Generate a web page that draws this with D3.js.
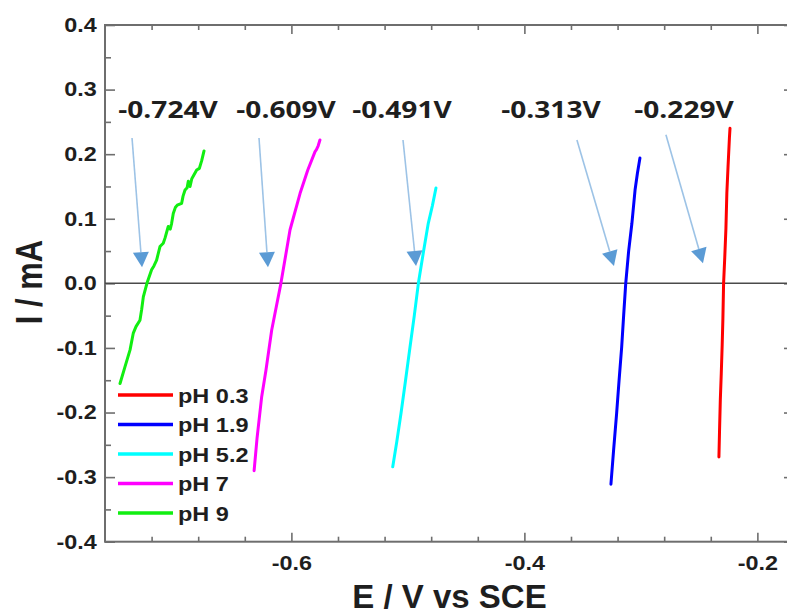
<!DOCTYPE html>
<html>
<head>
<meta charset="utf-8">
<script src="https://cdn.jsdelivr.net/npm/d3@7"></script>
<style>
  html, body { margin: 0; padding: 0; background: #fff; overflow: hidden; }
  svg { display: block; }
</style>
</head>
<body>
<svg id="chart" width="787" height="614"></svg>
<script>
// Open-circuit polarization curves at several pH values (E in V vs SCE, I in mA)
const seriesNames = ["pH 0.3", "pH 1.9", "pH 5.2", "pH 7", "pH 9"];
const seriesColors = ["#ff0000", "#0000ff", "#00ffff", "#ff00ff", "#11ee11"];

const ph03E = [-0.2330, -0.2325, -0.2318, -0.2310, -0.2302, -0.2296, -0.2290, -0.2280, -0.2270, -0.2262, -0.2252, -0.2240, -0.2235];
const ph03I = [-0.269, -0.230, -0.180, -0.140, -0.095, -0.055, 0.000, 0.040, 0.085, 0.140, 0.180, 0.225, 0.240];

const ph19E = [-0.3257, -0.3235, -0.3208, -0.3187, -0.3165, -0.3148, -0.3130, -0.3105, -0.3077, -0.3050, -0.3030, -0.3008];
const ph19I = [-0.311, -0.260, -0.201, -0.150, -0.099, -0.050, 0.000, 0.050, 0.093, 0.1445, 0.170, 0.194];

const ph52E = [-0.5130, -0.5095, -0.5059, -0.5020, -0.4982, -0.4945, -0.4910, -0.4868, -0.4825, -0.4790, -0.4759];
const ph52I = [-0.284, -0.245, -0.201, -0.150, -0.099, -0.050, 0.000, 0.047, 0.093, 0.120, 0.1476];

const ph7E = [-0.6320, -0.6295, -0.6255, -0.6218, -0.6169, -0.6090, -0.6012, -0.5926, -0.5860, -0.5797, -0.5785, -0.5770, -0.5755];
const ph7I = [-0.290, -0.240, -0.1755, -0.134, -0.0723, 0.000, 0.0826, 0.139, 0.175, 0.204, 0.207, 0.213, 0.222];

const ph9E = [-0.7471, -0.7430, -0.7385, -0.7357, -0.7334, -0.7300, -0.7285, -0.7271, -0.7240, -0.7200, -0.7180, -0.7157, -0.7128, -0.7100, -0.7085, -0.7057, -0.7040, -0.7028, -0.7014, -0.6995, -0.6980, -0.6942, -0.6930, -0.6913, -0.6895, -0.6885, -0.6870, -0.6855, -0.6813, -0.6790, -0.6770, -0.6750];
const ph9I = [-0.155, -0.130, -0.103, -0.077, -0.067, -0.057, -0.040, -0.021, 0.000, 0.021, 0.027, 0.036, 0.057, 0.062, 0.070, 0.088, 0.084, 0.093, 0.108, 0.118, 0.121, 0.124, 0.135, 0.1445, 0.148, 0.158, 0.150, 0.162, 0.1755, 0.178, 0.190, 0.205];

const seriesE = [ph03E, ph19E, ph52E, ph7E, ph9E];
const seriesI = [ph03I, ph19I, ph52I, ph7I, ph9I];

// Zero-current potentials, their label anchors and arrow ends (data units)
const crossPotentials = [-0.724, -0.609, -0.491, -0.313, -0.229];
const labelE = [-0.7059, -0.6046, -0.5051, -0.3772, -0.2630];
const labelI = 0.256;
const arrowStartE = [-0.7368, -0.6278, -0.5042, -0.3549, -0.2785];
const arrowStartI = [0.225, 0.225, 0.222, 0.222, 0.230];
const arrowTipE = [-0.7282, -0.6201, -0.4930, -0.3231, -0.2467];
const arrowTipI = [0.025, 0.025, 0.027, 0.027, 0.031];

// Axis ticks
const xMajorTicks = [-0.6, -0.4, -0.2];
const xMinorTicks = [-0.72, -0.68, -0.64, -0.56, -0.52, -0.48, -0.44, -0.36, -0.32, -0.28, -0.24];
const yMajorTicks = [-0.4, -0.3, -0.2, -0.1, 0.0, 0.1, 0.2, 0.3, 0.4];
const yMinorTicks = [-0.35, -0.25, -0.15, -0.05, 0.05, 0.15, 0.25, 0.35];

const svg = d3.select("#chart");
// the right edge of the frame runs just past the visible area
const plotLeft = 105, plotRight = 795, plotTop = 25, plotBottom = 541.7;

const x = d3.scaleLinear().domain([-0.76, -0.1677]).range([plotLeft, plotRight]);
const y = d3.scaleLinear().domain([-0.4, 0.4]).range([plotBottom, plotTop]);

const axisColor = "#6e6e6e";
const textColor = "#1e1e1e";
const fmt = d => d.toFixed(1);

function styleAxis(g) {
  g.select(".domain").remove();
  g.selectAll("line").attr("stroke", axisColor).attr("stroke-width", 1.6);
}

// minor ticks on all four sides (inward)
svg.append("g").attr("transform", `translate(0,${plotBottom})`)
  .call(d3.axisBottom(x).tickValues(xMinorTicks).tickSize(-5).tickFormat(""))
  .call(styleAxis);
svg.append("g").attr("transform", `translate(0,${plotTop})`)
  .call(d3.axisTop(x).tickValues(xMinorTicks).tickSize(-5).tickFormat(""))
  .call(styleAxis);
svg.append("g").attr("transform", `translate(${plotLeft},0)`)
  .call(d3.axisLeft(y).tickValues(yMinorTicks).tickSize(-6).tickFormat(""))
  .call(styleAxis);
svg.append("g").attr("transform", `translate(${plotRight},0)`)
  .call(d3.axisRight(y).tickValues(yMinorTicks).tickSize(-6).tickFormat(""))
  .call(styleAxis);

// major ticks
const xAxisG = svg.append("g").attr("transform", `translate(0,${plotBottom})`)
  .call(d3.axisBottom(x).tickValues(xMajorTicks).tickSize(-9).tickPadding(14).tickFormat(fmt))
  .call(styleAxis);
svg.append("g").attr("transform", `translate(0,${plotTop})`)
  .call(d3.axisTop(x).tickValues(xMajorTicks).tickSize(-9).tickFormat(""))
  .call(styleAxis);
const yAxisG = svg.append("g").attr("transform", `translate(${plotLeft},0)`)
  .call(d3.axisLeft(y).tickValues(yMajorTicks).tickSize(-10).tickPadding(7).tickFormat(fmt))
  .call(styleAxis);
svg.append("g").attr("transform", `translate(${plotRight},0)`)
  .call(d3.axisRight(y).tickValues(yMajorTicks).tickSize(-11).tickFormat(""))
  .call(styleAxis);

[xAxisG, yAxisG].forEach(g => g.selectAll("text")
  .attr("fill", textColor)
  .attr("font-family", "'Liberation Sans', Arial, sans-serif")
  .attr("font-weight", "bold")
  .attr("font-size", 20)
  .attr("transform", "scale(1.17,1)"));

// frame
svg.append("rect")
  .attr("x", plotLeft).attr("y", plotTop)
  .attr("width", plotRight - plotLeft).attr("height", plotBottom - plotTop)
  .attr("fill", "none").attr("stroke", axisColor).attr("stroke-width", 2);

// zero-current line
svg.append("line")
  .attr("x1", plotLeft).attr("x2", plotRight)
  .attr("y1", y(0)).attr("y2", y(0))
  .attr("stroke", "#4a4a4a").attr("stroke-width", 1.5);

// curves
const line = d3.line().x(d => x(d[0])).y(d => y(d[1]));
seriesNames.forEach((name, i) => {
  const pts = seriesE[i].map((e, j) => [e, seriesI[i][j]]);
  svg.append("path")
    .datum(pts)
    .attr("d", line)
    .attr("fill", "none")
    .attr("stroke", seriesColors[i])
    .attr("stroke-width", 3)
    .attr("stroke-linejoin", "round")
    .attr("stroke-linecap", "round");
});

// arrows pointing at the zero-current potentials
crossPotentials.forEach((v, i) => {
  const x0 = x(arrowStartE[i]), y0 = y(arrowStartI[i]);
  const x1 = x(arrowTipE[i]), y1 = y(arrowTipI[i]);
  const dx = x1 - x0, dy = y1 - y0, len = Math.hypot(dx, dy);
  const ux = dx / len, uy = dy / len;
  const headLen = 15, headHalf = 8;
  const bx = x1 - ux * headLen, by = y1 - uy * headLen;
  svg.append("line")
    .attr("x1", x0).attr("y1", y0).attr("x2", bx).attr("y2", by)
    .attr("stroke", "#9dc3e6").attr("stroke-width", 1.6);
  svg.append("path")
    .attr("d", `M${x1},${y1}L${bx - uy * headHalf},${by + ux * headHalf}L${bx + uy * headHalf},${by - ux * headHalf}Z`)
    .attr("fill", "#5b9bd5");

  svg.append("text")
    .attr("transform", `translate(${x(labelE[i])},${y(labelI)}) scale(1.17,1)`)
    .attr("text-anchor", "middle")
    .attr("font-family", "'Open Sans', sans-serif")
    .attr("font-weight", 700)
    .attr("font-size", 24)
    .attr("fill", textColor)
    .text(v.toFixed(3) + "V");
});

// legend
const legend = svg.append("g");
seriesNames.forEach((name, i) => {
  const ly = 395 + i * 29.5;
  legend.append("line")
    .attr("x1", 118).attr("x2", 173).attr("y1", ly).attr("y2", ly)
    .attr("stroke", seriesColors[i]).attr("stroke-width", 3.5);
  legend.append("text")
    .attr("transform", `translate(178,${ly}) scale(1.12,1)`)
    .attr("dy", "0.36em")
    .attr("font-family", "'Liberation Sans', Arial, sans-serif")
    .attr("font-weight", "bold")
    .attr("font-size", 21)
    .attr("fill", textColor)
    .text(name);
});

// axis titles
svg.append("text")
  .attr("transform", `translate(449.5,608)`)
  .attr("text-anchor", "middle")
  .attr("font-family", "'Liberation Sans', Arial, sans-serif")
  .attr("font-weight", "bold")
  .attr("font-size", 33)
  .attr("fill", textColor)
  .text("E / V vs SCE");

svg.append("text")
  .attr("transform", `translate(42,282) rotate(-90) scale(1,1.2)`)
  .attr("text-anchor", "middle")
  .attr("font-family", "'Liberation Sans', Arial, sans-serif")
  .attr("font-weight", "bold")
  .attr("font-size", 31)
  .attr("fill", textColor)
  .text("I / mA");
</script>
</body>
</html>
